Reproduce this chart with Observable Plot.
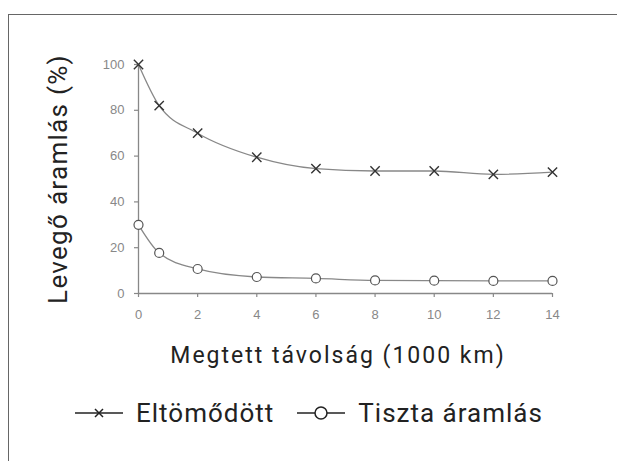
<!DOCTYPE html>
<html>
<head>
<meta charset="utf-8">
<script src="https://cdn.jsdelivr.net/npm/d3@7"></script>
<script src="https://cdn.jsdelivr.net/npm/@observablehq/plot@0.6"></script>
<style>
  html, body { margin: 0; padding: 0; background: #fff; overflow: hidden; }
  #wrap { position: relative; width: 617px; height: 461px; }
  #frame { position: absolute; left: 8px; top: 14px; width: 640px; height: 480px;
           border-left: 1.5px solid #666; border-top: 1.5px solid #666; }
  #chart { position: absolute; left: 0; top: 0; }
  .title { position: absolute; font-family: Roboto, "DejaVu Sans", sans-serif; color: #222; line-height: 1; white-space: nowrap; }
  #ylab { font-size: 26px; letter-spacing: 1.3px; left: 58px; top: 179px; transform: translate(-50%, -50%) rotate(-90deg); }
  #xlab { font-size: 23px; letter-spacing: 2px; left: 338px; top: 344px; transform: translateX(-50%); }
  #legend { position: absolute; left: 74px; top: 400px; display: flex; align-items: center;
            font-family: Roboto, "DejaVu Sans", sans-serif; color: #222; font-size: 26px; letter-spacing: 1px; line-height: 1; white-space: nowrap; }
  #legend .item { display: flex; align-items: center; margin-right: 22px; }
  #legend svg { margin-right: 12px; }
</style>
</head>
<body>
<div id="wrap">
  <div id="frame"></div>
  <div id="chart"></div>
  <div id="ylab" class="title"></div>
  <div id="xlab" class="title"></div>
  <div id="legend"></div>
</div>
<script>
const distance = [0, 0.7, 2, 4, 6, 8, 10, 12, 14];
const eltomodott = [100, 82, 70, 59.5, 54.5, 53.5, 53.5, 52, 53];
const tiszta = [30, 17.7, 10.7, 7.2, 6.6, 5.7, 5.6, 5.5, 5.5];
const seriesNames = ["Eltömődött", "Tiszta áramlás"];
const xTicks = [0, 2, 4, 6, 8, 10, 12, 14];
const yTicks = [0, 20, 40, 60, 80, 100];
const xTitle = "Megtett távolság (1000 km)";
const yTitle = "Levegő áramlás (%)";

const data = [];
distance.forEach((d, i) => {
  data.push({x: d, y: eltomodott[i], series: seriesNames[0]});
  data.push({x: d, y: tiszta[i], series: seriesNames[1]});
});

const chart = Plot.plot({
  width: 617,
  height: 330,
  marginLeft: 138,
  marginRight: 65,
  marginTop: 64,
  marginBottom: 37,
  x: {domain: [0, 14]},
  y: {domain: [0, 100]},
  style: {fontFamily: "Arial, 'Liberation Sans', sans-serif", fontSize: "13px", color: "#888", background: "transparent"},
  marks: [
    Plot.axisY({ticks: yTicks, tickSize: 4, tickPadding: 10, label: null, strokeWidth: 1.2, fontSize: 13, fill: "#888"}),
    Plot.axisX({ticks: xTicks, tickSize: 4, tickPadding: 12, label: null, strokeWidth: 1.2, fontSize: 13, fill: "#888"}),
    Plot.ruleX([0], {stroke: "#888", strokeWidth: 1.3}),
    Plot.ruleY([0], {stroke: "#888", strokeWidth: 1.3}),
    Plot.line(data, {x: "x", y: "y", z: "series", curve: "monotone-x", stroke: "#888", strokeWidth: 1.3}),
    Plot.dot(data.filter(d => d.series === seriesNames[0]), {x: "x", y: "y", symbol: "times", r: 4.3, stroke: "#333", strokeWidth: 1.4}),
    Plot.dot(data.filter(d => d.series === seriesNames[1]), {x: "x", y: "y", symbol: "circle", r: 4.5, fill: "#fff", stroke: "#555", strokeWidth: 1.2})
  ]
});
document.getElementById("chart").appendChild(chart);
document.getElementById("ylab").textContent = yTitle;
document.getElementById("xlab").textContent = xTitle;

const legend = document.getElementById("legend");
seriesNames.forEach((name, i) => {
  const item = document.createElement("div");
  item.className = "item";
  const marker = i === 0
    ? '<path d="M21,9 L29,17 M29,9 L21,17" stroke="#222" stroke-width="1.5"/>'
    : '<circle cx="25" cy="13" r="6" fill="#fff" stroke="#222" stroke-width="1.5"/>';
  item.innerHTML = '<svg width="50" height="26"><line x1="1" x2="49" y1="13" y2="13" stroke="#222" stroke-width="1.5"/>' + marker + '</svg><span>' + name + '</span>';
  legend.appendChild(item);
});
</script>
</body>
</html>
